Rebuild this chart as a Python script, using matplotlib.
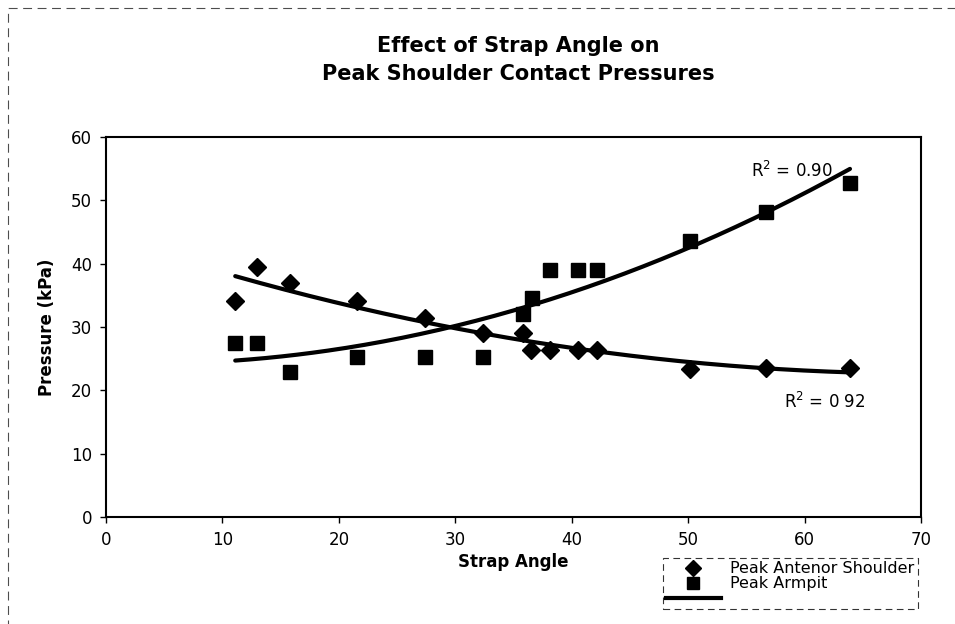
import numpy as np
import matplotlib.pyplot as plt
from matplotlib.lines import Line2D
from matplotlib.patches import Rectangle

# strap angle (deg) and peak pressures (kPa)
angle_shoulder = [11.1, 13.0, 15.8, 21.6, 27.4, 32.4, 35.8, 36.5, 38.1, 40.5, 42.2, 50.2, 56.7, 63.9]
p_shoulder = [34.1, 39.5, 36.9, 34.1, 31.5, 29.0, 29.1, 26.3, 26.3, 26.3, 26.3, 23.4, 23.5, 23.6]

angle_armpit = [11.1, 13.0, 15.8, 21.6, 27.4, 32.4, 35.8, 36.6, 38.1, 40.5, 42.2, 50.2, 56.7, 63.9]
p_armpit = [27.5, 27.5, 22.9, 25.2, 25.2, 25.2, 32.0, 34.6, 39.0, 39.0, 39.0, 43.6, 48.2, 52.8]

r2_labels = ['R$^2$ = 0.90', 'R$^2$ = 0 92']
legend_labels = ['Peak Antenor Shoulder', 'Peak Armpit', '']

plt.rcParams['font.family'] = ['DejaVu Sans']
plt.rcParams['mathtext.default'] = 'regular'

fig = plt.figure(figsize=(9.55, 6.24), dpi=100)
ax = fig.add_axes([106 / 955, 1 - 517 / 624, 815 / 955, 380 / 624])

ax.plot(angle_shoulder, p_shoulder, 'D', color='black', ms=9, zorder=3)
ax.plot(angle_armpit, p_armpit, 's', color='black', ms=10, zorder=3)

# second order trend lines like the spreadsheet ones
for xs, ys in [(angle_shoulder, p_shoulder), (angle_armpit, p_armpit)]:
    c = np.polyfit(xs, ys, 2)
    xx = np.linspace(min(xs), max(xs), 200)
    ax.plot(xx, np.polyval(c, xx), color='black', lw=3, solid_capstyle='round', zorder=2)

ax.text(55.4, 54.7, r2_labels[0], fontsize=12, va='center')
ax.text(58.2, 18.2, r2_labels[1], fontsize=12, va='center')

ax.set_xlim(0, 70)
ax.set_ylim(0, 60)
ax.set_xticks(range(0, 71, 10))
ax.set_yticks(range(0, 61, 10))
ax.tick_params(direction='out', length=4, width=1, labelsize=12, pad=6)
for s in ax.spines.values():
    s.set_linewidth(1.5)

ax.set_xlabel('Strap Angle', fontsize=12, fontweight='bold', labelpad=3)
ax.set_ylabel('Pressure (kPa)', fontsize=12, fontweight='bold', labelpad=11)

fig.text(518 / 955, 1 - 60 / 624, 'Effect of Strap Angle on\nPeak Shoulder Contact Pressures',
         ha='center', va='center', fontsize=15, fontweight='bold', linespacing=1.45)

handles = [Line2D([], [], ls='none', marker='D', color='black', ms=8),
           Line2D([], [], ls='none', marker='s', color='black', ms=9),
           Line2D([], [], color='black', lw=3)]
leg = fig.legend(handles, legend_labels, loc='upper left', bbox_to_anchor=(663 / 955, 1 - 558 / 624),
                 borderaxespad=0, fontsize=11.5, frameon=True, fancybox=False, edgecolor='black',
                 handlelength=3.4, labelspacing=0.0, borderpad=0.2, handletextpad=0.6)
leg.get_frame().set_linestyle((0, (6, 4)))
leg.get_frame().set_linewidth(0.8)

# dashed outer border of the chart
fig.patches.append(Rectangle((8 / 955, -0.1), 1.1, 1 - 8 / 624 + 0.1, transform=fig.transFigure,
                             fill=False, ls=(0, (8, 5)), lw=0.8, color='0.3'))

fig.savefig('out.png', dpi=100)
